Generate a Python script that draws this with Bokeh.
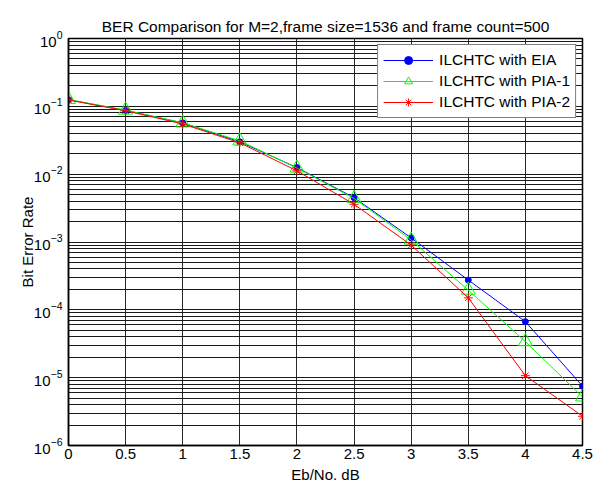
from bokeh.plotting import figure
from bokeh.models import FixedTicker, Legend, LegendItem, ColumnDataSource
from bokeh.embed import file_html
from bokeh.resources import INLINE

# ---- data ----
ebno = [0, 0.5, 1, 1.5, 2, 2.5, 3, 3.5, 4, 4.5]
ber_eia = [0.125, 0.087, 0.057, 0.030, 0.0125, 0.0045, 0.00115, 2.75e-4, 6.7e-5, 7.5e-6]
ber_pia1 = [0.126, 0.088, 0.057, 0.031, 0.0123, 0.0044, 0.00107, 1.95e-4, 3.4e-5, 5.2e-6]
ber_pia2 = [0.124, 0.086, 0.055, 0.029, 0.0112, 0.0036, 0.00090, 1.5e-4, 1.07e-5, 2.7e-6]

series_names = ["ILCHTC with EIA", "ILCHTC with PIA-1", "ILCHTC with PIA-2"]
x_ticks = [0, 0.5, 1, 1.5, 2, 2.5, 3, 3.5, 4, 4.5]
y_ticks = [1e-6, 1e-5, 1e-4, 1e-3, 1e-2, 1e-1, 1e0]
y_minor = [m * 10.0 ** e for e in range(-6, 0) for m in range(2, 10)]

title_text = "BER Comparison for M=2,frame size=1536 and frame count=500"
x_label = "Eb/No. dB"
y_label = "Bit Error Rate"

FONT = "Liberation Sans"

p = figure(width=595, height=485, y_axis_type="log",
           x_range=(0, 4.5), y_range=(1e-6, 1),
           output_backend="svg", toolbar_location=None,
           min_border_left=68, min_border_right=13,
           min_border_top=38, min_border_bottom=39,
           title=title_text)

p.background_fill_color = "white"
p.border_fill_color = "white"
p.outline_line_color = "black"
p.outline_line_width = 1.5

p.title.text_font = FONT
p.title.text_font_size = "15.5px"
p.title.text_font_style = "normal"
p.title.text_color = "black"
p.title.align = "center"
p.title.standoff = 7

p.xaxis.ticker = FixedTicker(ticks=x_ticks)
p.yaxis.ticker = FixedTicker(ticks=y_ticks, minor_ticks=y_minor)

for ax in (p.xaxis[0], p.yaxis[0]):
    ax.axis_line_color = "black"
    ax.axis_line_width = 1.5
    ax.major_tick_in = 0
    ax.major_tick_out = 0
    ax.minor_tick_in = 0
    ax.minor_tick_out = 0
    ax.major_label_text_font = FONT
    ax.major_label_text_font_size = "15px"
    ax.major_label_text_color = "black"
    ax.axis_label_text_font = FONT
    ax.axis_label_text_font_size = "15px"
    ax.axis_label_text_font_style = "normal"
    ax.axis_label_text_color = "black"

p.xaxis.axis_label = x_label
p.yaxis.axis_label = y_label
p.xaxis.major_label_standoff = 3
p.xaxis.axis_label_standoff = 4
p.yaxis.major_label_standoff = 6
p.yaxis.axis_label_standoff = -5

p.xgrid.grid_line_color = "#282828"
p.xgrid.grid_line_width = 1
p.ygrid.grid_line_color = "#1a1a1a"
p.ygrid.grid_line_width = 1
p.ygrid.minor_grid_line_color = "#1a1a1a"
p.ygrid.minor_grid_line_width = 1

src = ColumnDataSource(dict(x=ebno, a=ber_eia, b=ber_pia1, c=ber_pia2))

l1 = p.line("x", "a", source=src, line_color="#0000ff", line_width=1)
m1 = p.scatter("x", "a", source=src, marker="circle", size=6,
               fill_color="#0000ff", line_color="#0000ff")
l2 = p.line("x", "b", source=src, line_color="#00ff00", line_width=1)
m2 = p.scatter("x", "b", source=src, marker="triangle", size=14,
               fill_color=None, line_color="#00ff00", line_width=1)
l3 = p.line("x", "c", source=src, line_color="#ff0000", line_width=1)
m3 = p.scatter("x", "c", source=src, marker="asterisk", size=9,
               line_color="#ff0000", line_width=1)

legend = Legend(items=[
    LegendItem(label=series_names[0], renderers=[l1, m1]),
    LegendItem(label=series_names[1], renderers=[l2, m2]),
    LegendItem(label=series_names[2], renderers=[l3, m3]),
], location="top_right")
legend.margin = 6
legend.padding = 5
legend.spacing = 1
legend.label_height = 20
legend.glyph_height = 20
legend.glyph_width = 50
legend.label_standoff = 6
legend.label_text_font = FONT
legend.label_text_font_size = "15.5px"
legend.label_text_color = "black"
legend.border_line_color = "black"
legend.border_line_width = 1
legend.background_fill_color = "white"
legend.background_fill_alpha = 1
p.add_layout(legend, "center")

open("out.html", "w").write(file_html(p, INLINE))
